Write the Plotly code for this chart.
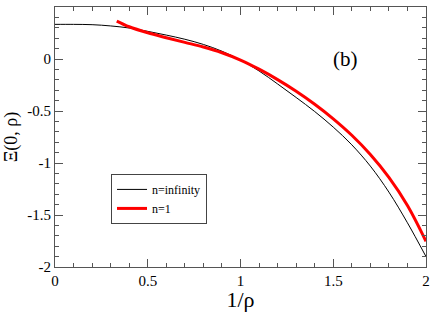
import plotly.graph_objects as go

# n = infinity (thin black)
x_inf = [0.0, 0.1, 0.2, 0.3, 0.4, 0.5, 0.6, 0.7, 0.8, 0.9, 1.0, 1.1, 1.2, 1.3, 1.4, 1.5, 1.6, 1.7, 1.8, 1.9, 2.0]
y_inf = [0.333, 0.333, 0.330, 0.318, 0.298, 0.266, 0.230, 0.190, 0.140, 0.075, -0.01, -0.115, -0.24, -0.37, -0.505, -0.655, -0.825, -1.03, -1.28, -1.575, -1.90]

# n = 1 (thick red)
x_one = [0.333, 0.4, 0.5, 0.6, 0.7, 0.8, 0.9, 1.0, 1.1, 1.2, 1.3, 1.4, 1.5, 1.6, 1.7, 1.8, 1.9, 2.0]
y_one = [0.365, 0.31, 0.252, 0.205, 0.16, 0.115, 0.06, -0.01, -0.098, -0.198, -0.31, -0.435, -0.575, -0.733, -0.918, -1.138, -1.408, -1.753]

x_ticks = [0, 0.5, 1, 1.5, 2]
x_tick_text = ["0", "0.5", "1", "1.5", "2"]
y_ticks = [-2, -1.5, -1, -0.5, 0, 0.5]
y_tick_text = ["-2", "-1.5", "-1", "-0.5", "0", "0.5"]

FONT = "Liberation Serif"

fig = go.Figure()
fig.add_trace(go.Scatter(x=x_inf, y=y_inf, mode="lines", name="n=infinity",
                         line=dict(color="black", width=1, shape="spline")))
fig.add_trace(go.Scatter(x=x_one, y=y_one, mode="lines", name="n=1",
                         line=dict(color="red", width=3, shape="spline")))

axis_common = dict(
    showgrid=False, zeroline=False, showline=True, linecolor="#555", linewidth=1,
    mirror="ticks", ticks="inside", ticklen=8, tickcolor="#555", tickwidth=1,
    tickfont=dict(family=FONT, size=15, color="black"),
)

fig.update_xaxes(range=[0, 2], tickvals=x_ticks, ticktext=x_tick_text,
                 minor=dict(dtick=0.1, ticks="inside", ticklen=4, tickcolor="#555"),
                 title=dict(text="1/ρ", font=dict(family=FONT, size=22, color="black"), standoff=0),
                 **axis_common)
fig.update_yaxes(range=[-2, 0.5], tickvals=y_ticks, ticktext=y_tick_text,
                 minor=dict(dtick=0.1, ticks="inside", ticklen=4, tickcolor="#555"),
                 title=dict(text="Ξ(0, ρ)", font=dict(family=FONT, size=18, color="black"), standoff=4),
                 **axis_common)

fig.add_annotation(x=0.822, y=0.854, xref="paper", yref="paper", text="(b)", showarrow=False,
                   font=dict(family=FONT, size=21, color="black"))

fig.update_layout(
    width=432, height=312,
    margin=dict(l=55, r=6, t=7, b=45, autoexpand=False),
    paper_bgcolor="white", plot_bgcolor="white",
    font=dict(family=FONT, color="black"),
    showlegend=True,
    legend=dict(x=0.151, y=0.358, xanchor="left", yanchor="top",
                bordercolor="#444", borderwidth=1, bgcolor="white",
                font=dict(family=FONT, size=12, color="black"),
                tracegroupgap=0, itemwidth=30),
)

fig.write_html("out.html", config={"displayModeBar": False},
               post_script="document.body.style.margin='0';")
